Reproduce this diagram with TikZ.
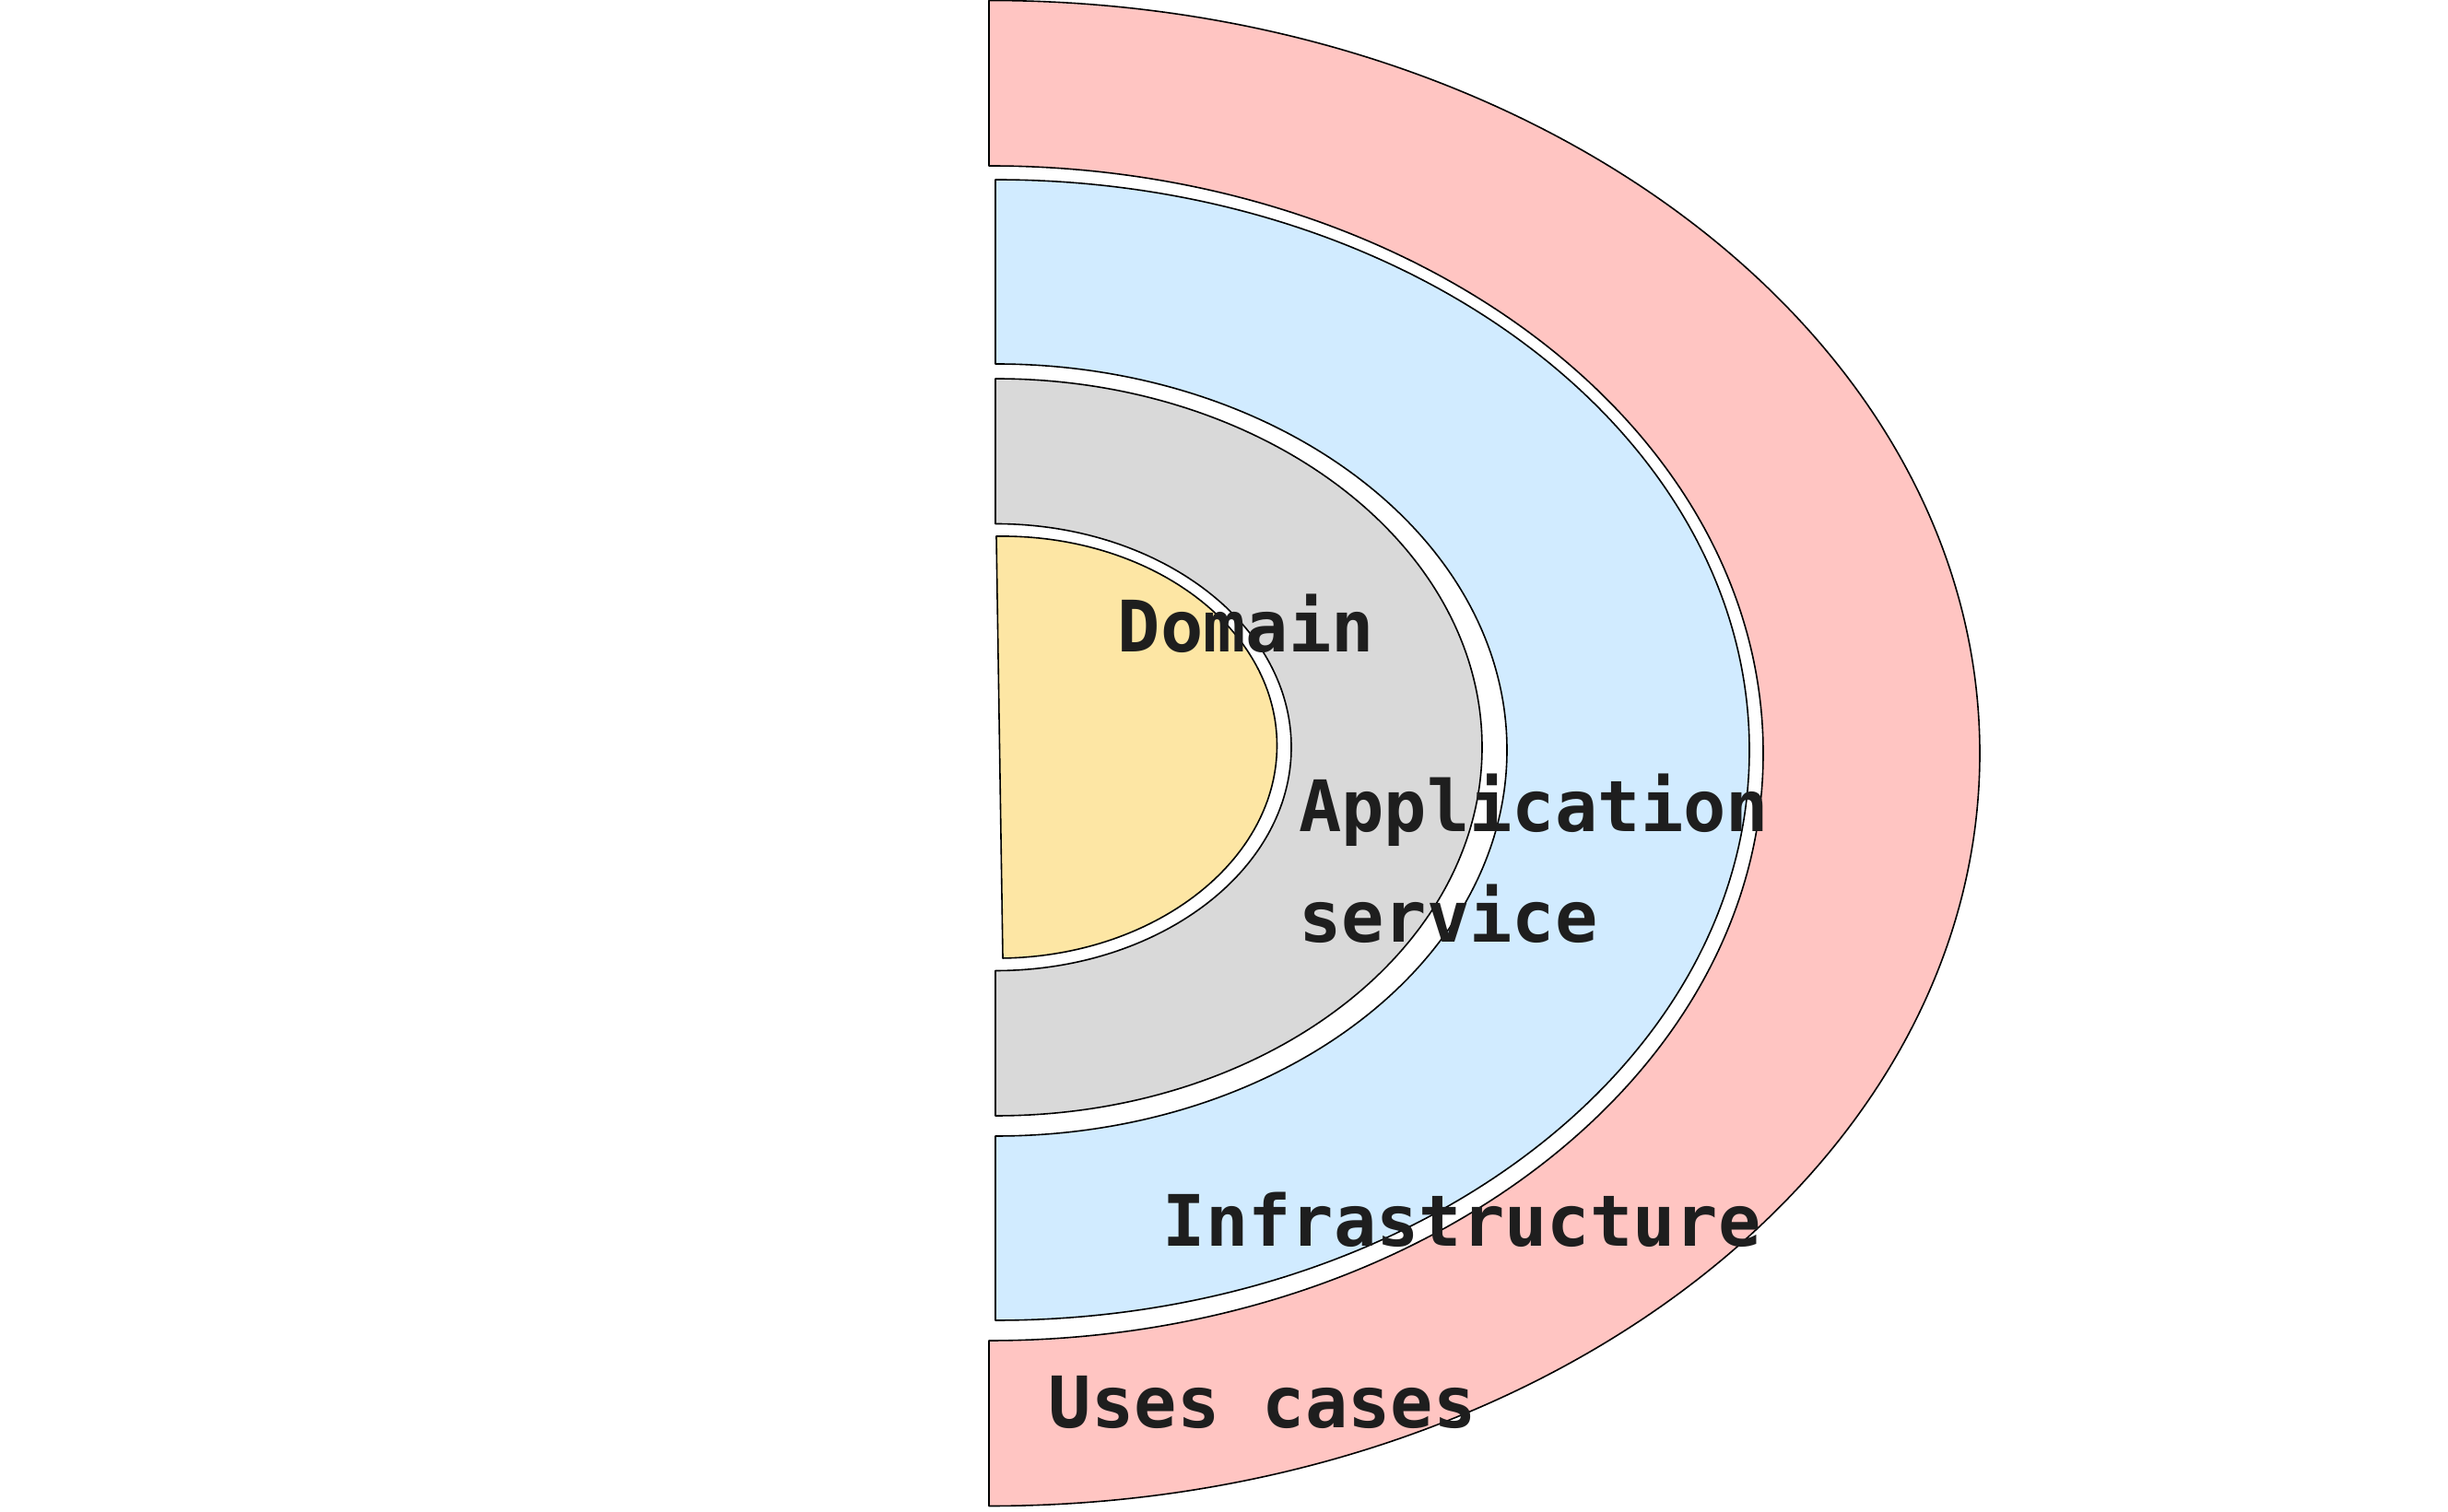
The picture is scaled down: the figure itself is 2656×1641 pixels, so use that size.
\documentclass[tikz,border=0pt]{standalone}
\usepackage{fontspec}
\newfontfamily\labelfont{DejaVu Sans Mono}
\definecolor{ringpink}{HTML}{FFC5C2}
\definecolor{ringblue}{HTML}{D1EBFF}
\definecolor{ringgray}{HTML}{D9D9D9}
\definecolor{ringyellow}{HTML}{FDE6A4}
\definecolor{labelink}{HTML}{1E1E1E}
\tikzset{
  ring/.style={draw=black, line width=1.6pt, line join=round},
  layerlabel/.style={anchor=base west, inner sep=0pt, text=labelink,
    font=\labelfont\bfseries\fontsize{77}{92}\selectfont}
}
\begin{document}
\begin{tikzpicture}[x=1pt,y=1pt]
\useasboundingbox (0,0) rectangle (2656,1641);
% Uses cases ring
\draw[ring, fill=ringpink] (1073,{823.5+817}) arc[start angle=90, end angle=-90, x radius=1075pt, y radius=817pt]
  -- (1073,{823.5-637.5}) arc[start angle=-90, end angle=90, x radius=840pt, y radius=637.5pt] -- cycle;
% Infrastructure ring
\draw[ring, fill=ringblue] (1080,{827+619}) arc[start angle=90, end angle=-90, x radius=818pt, y radius=619pt]
  -- (1080,{827-419}) arc[start angle=-90, end angle=90, x radius=555pt, y radius=419pt] -- cycle;
% Application service ring
\draw[ring, fill=ringgray] (1080,{830+400}) arc[start angle=90, end angle=-90, x radius=528pt, y radius=400pt]
  -- (1080,{830-242.5}) arc[start angle=-90, end angle=90, x radius=321pt, y radius=242.5pt] -- cycle;
% Domain core
\begin{scope}[shift={(1084.5,830)}, rotate=0.88]
\draw[ring, fill=ringyellow] (0,229) arc[start angle=90, end angle=-90, x radius=301pt, y radius=229pt] -- cycle;
\end{scope}
% labels
\node[layerlabel] (domain) at (1212.5,933) {Domain};
\node[layerlabel] (app) at (1409,738) {Application};
\node[layerlabel] (service) at (1409,618) {service};
\node[layerlabel] (infra) at (1261.5,288) {Infrastructure};
\node[layerlabel] (uses) at (1137.75,91) {Uses cases};
\end{tikzpicture}
\end{document}
